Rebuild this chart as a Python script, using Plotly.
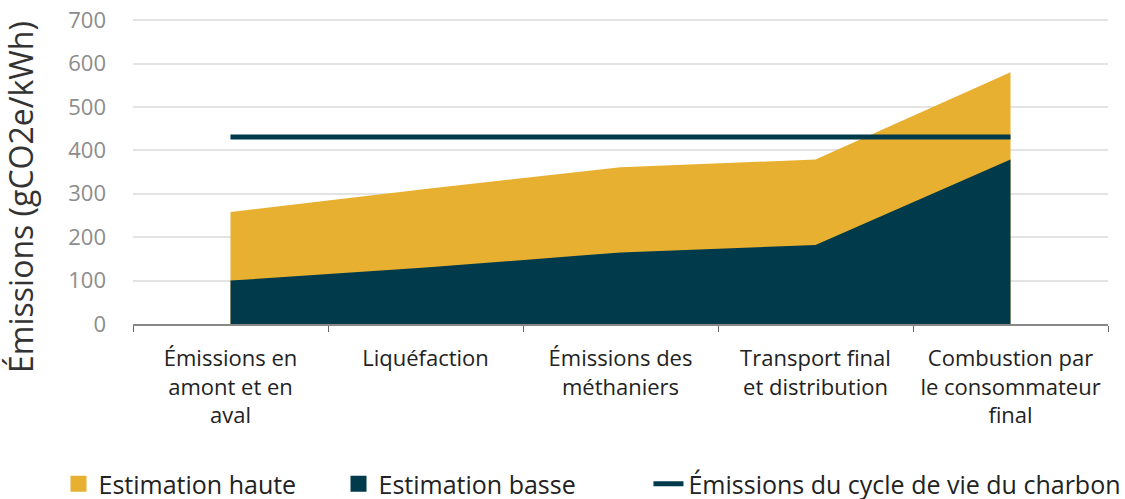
import plotly.graph_objects as go

categories = [
    "Émissions en<br>amont et en<br>aval",
    "Liquéfaction",
    "Émissions des<br>méthaniers",
    "Transport final<br>et distribution",
    "Combustion par<br>le consommateur<br>final",
]
high_estimate = [258, 311, 361, 379, 580]
low_estimate = [100, 130, 165, 182, 379]
coal_lifecycle = [431, 431, 431, 431, 431]
y_ticks = [0, 100, 200, 300, 400, 500, 600, 700]

YELLOW = "#E8B030"
NAVY = "#013A4B"
FONT = "Open Sans"

fig = go.Figure()
fig.add_trace(go.Scatter(x=categories, y=high_estimate, fill="tozeroy", mode="none",
                         fillcolor=YELLOW, showlegend=False, hoverinfo="skip"))
fig.add_trace(go.Scatter(x=categories, y=low_estimate, fill="tozeroy", mode="none",
                         fillcolor=NAVY, showlegend=False, hoverinfo="skip"))
fig.add_trace(go.Scatter(x=[None], y=[None], mode="markers", name="Estimation haute",
                         marker=dict(symbol="square", size=22, color=YELLOW), legend="legend"))
fig.add_trace(go.Scatter(x=[None], y=[None], mode="markers", name="Estimation basse",
                         marker=dict(symbol="square", size=22, color=NAVY), legend="legend2"))
fig.add_trace(go.Scatter(x=categories, y=coal_lifecycle, mode="lines",
                         name="Émissions du cycle de vie du charbon",
                         line=dict(color=NAVY, width=5), legend="legend3"))

legend_common = dict(orientation="h", xref="container", yref="container",
                     y=0.03, xanchor="left", yanchor="middle",
                     font=dict(size=25, color="#222"), bgcolor="rgba(0,0,0,0)")

fig.update_layout(
    width=1125, height=499,
    margin=dict(l=133, r=17, t=18, b=175, autoexpand=False),
    plot_bgcolor="white", paper_bgcolor="white",
    font=dict(family=FONT, color="#222"),
    legend=dict(x=0.052, **legend_common),
    legend2=dict(x=0.3009, **legend_common),
    legend3=dict(x=0.5764, **legend_common),
    annotations=[dict(text="Émissions (gCO2e/kWh)", textangle=-90, xref="paper", yref="paper",
                      x=-0.116, y=0.415, xanchor="center", yanchor="middle", showarrow=False,
                      font=dict(size=32, color="#333", family=FONT))],
)
fig.update_xaxes(type="category", range=[-0.5, 4.5], tickson="boundaries", ticks="outside",
                 ticklen=6, tickcolor="#666", showline=True, linecolor="#888", linewidth=1.5,
                 showgrid=False, tickfont=dict(size=22, color="#222"), ticklabelstandoff=14)
fig.update_yaxes(range=[0, 705], tickvals=y_ticks, showgrid=True, gridcolor="#E3E3E3",
                 gridwidth=1.5, zeroline=False, tickfont=dict(size=22, color="#8C8C8C"),
                 ticks="", ticklabelstandoff=26)

fig.write_html("out.html", config={"displayModeBar": False},
               post_script="document.body.style.margin='0';")
